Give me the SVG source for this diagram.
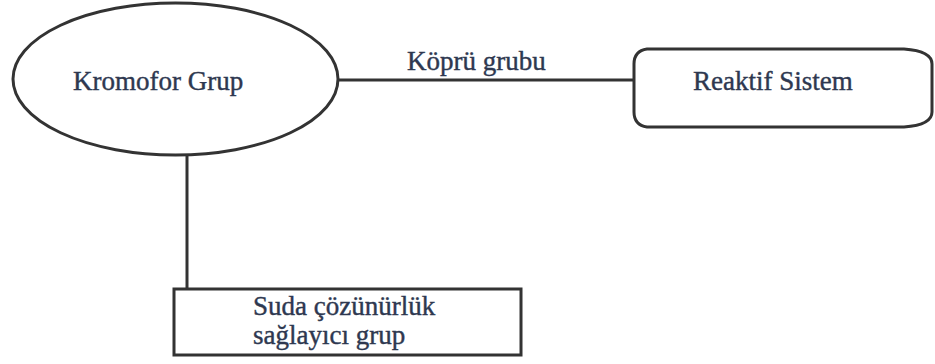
<svg xmlns="http://www.w3.org/2000/svg" width="935" height="364" viewBox="0 0 935 364">
  <style>
    .shape { fill: #ffffff; stroke: #333333; stroke-width: 3; }
    .link { fill: none; stroke: #333333; stroke-width: 3; }
    .label { font-family: "Liberation Serif", "Times New Roman", serif; font-size: 27px; fill: #2e3850; stroke: #2e3850; stroke-width: 0.4; }
  </style>
  <rect width="935" height="364" fill="#ffffff"/>

  <!-- connectors -->
  <g id="connectors">
    <line class="link" x1="338" y1="80" x2="635" y2="80"/>
    <line class="link" x1="187" y1="155" x2="187" y2="289"/>
    <text class="label" x="407" y="70">Köprü grubu</text>
  </g>

  <g id="kromofor">
    <ellipse class="shape" cx="175.5" cy="79" rx="162.5" ry="76"/>
    <text class="label" x="73" y="90" font-size="28">Kromofor Grup</text>
  </g>

  <g id="reaktif">
    <path class="shape" d="M647,49 L904,49 Q932,51 932,64 L932,112 Q932,125 904,127 L647,127 Q634,125 634,112 L634,64 Q634,51 647,49 Z"/>
    <text class="label" x="693" y="90">Reaktif Sistem</text>
  </g>

  <g id="suda">
    <rect class="shape" x="174" y="289" width="347" height="66"/>
    <text class="label" x="253" y="315" font-size="26">Suda çözünürlük</text>
    <text class="label" x="253" y="344" font-size="26">sağlayıcı grup</text>
  </g>
</svg>
